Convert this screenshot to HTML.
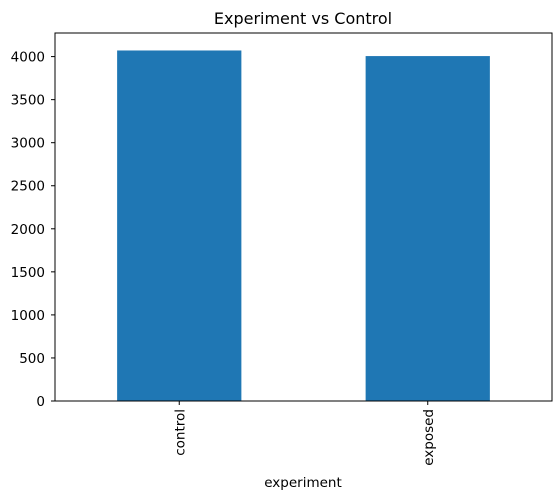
<!DOCTYPE html>
<html><head><meta charset="utf-8"><style>
body{margin:0;background:#fff;}
svg text{font-family:"DejaVu Sans","Liberation Sans",sans-serif;fill:#000;}
</style></head><body>
<svg id="chart" width="560" height="499" xmlns="http://www.w3.org/2000/svg">
<rect width="560" height="499" fill="#fff"/>
<text x="303" y="24" font-size="16" text-anchor="middle">Experiment vs Control</text>
<g id="bars"></g>
<g id="yaxis"></g>
<g id="xaxis"></g>
<rect x="55" y="33" width="497" height="368" fill="none" stroke="#000" stroke-width="1"/>
<text x="303" y="487" font-size="13.5" text-anchor="middle">experiment</text>
</svg>
<script>
const categories = ["control", "exposed"];
const counts = [4071, 4006];
const yTicks = [0, 500, 1000, 1500, 2000, 2500, 3000, 3500, 4000];

const L = 55, R = 552, T = 33, B = 401;
const yMax = 4274;
function y(v){ return B - v / yMax * (B - T); }
const step = (R - L) / categories.length;
function xc(i){ return L + step * (i + 0.5); }
const ns = "http://www.w3.org/2000/svg";
function mk(tag, attrs, parent){
  const e = document.createElementNS(ns, tag);
  for (const k in attrs) e.setAttribute(k, attrs[k]);
  parent.appendChild(e);
  return e;
}
const bars = document.getElementById("bars");
const ya = document.getElementById("yaxis");
const xa = document.getElementById("xaxis");
categories.forEach((c, i) => {
  const bw = step * 0.5;
  const b = mk("rect", {x: xc(i) - bw / 2, y: y(counts[i]), width: bw, height: B - y(counts[i]), fill: "#1f77b4"}, bars);
  
  
  const t = mk("line", {x1: xc(i), x2: xc(i), y1: B, y2: B + 4, stroke: "#000"}, xa);
  
  
  const lb = mk("text", {x: xc(i) + 5, y: B + 8, "font-size": 13.5, "text-anchor": "end", transform: "rotate(-90 " + (xc(i) + 5) + " " + (B + 8) + ")"}, xa);
  lb.textContent = c;
  
  
});
yTicks.forEach(v => {
  const t = mk("line", {x1: L - 4, x2: L, y1: y(v), y2: y(v), stroke: "#000"}, ya);
  
  
  const lb = mk("text", {x: L - 10, y: y(v) + 5, "font-size": 13.5, "text-anchor": "end"}, ya);
  lb.textContent = v;
  
  
});
</script>
</body></html>
